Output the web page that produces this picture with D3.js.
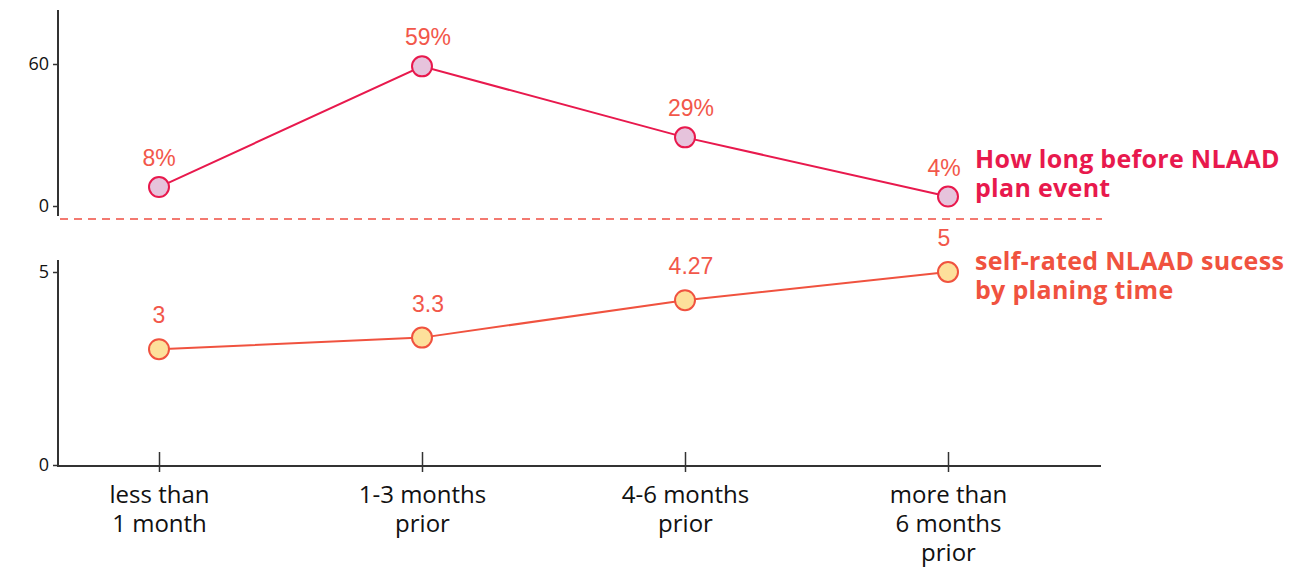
<!DOCTYPE html>
<html>
<head>
<meta charset="utf-8">
<script src="https://cdn.jsdelivr.net/npm/d3@7"></script>
<style>
  body { margin: 0; background: #fff; }
  svg { display: block; }
</style>
</head>
<body>
<div id="chart"></div>
<script>
var width = 1312;
var height = 567;

// data
var categories = [["less than", "1 month"], ["1-3 months", "prior"], ["4-6 months", "prior"], ["more than", "6 months", "prior"]];
var planShare = [8, 59, 29, 4];
var planLabels = ["8%", "59%", "29%", "4%"];
var success = [3, 3.3, 4.27, 5];
var successLabels = ["3", "3.3", "4.27", "5"];
var topTicks = [0, 60];
var bottomTicks = [0, 5];

var crimson = "#e8194d";
var coral = "#f0523f";
var labelColor = "#f2574a";

var svg = d3.select("#chart").append("svg")
    .attr("width", width)
    .attr("height", height);

var x = d3.scalePoint()
    .domain(d3.range(categories.length))
    .range([159, 948]);

var yTop = d3.scaleLinear().domain([0, 60]).range([206, 64]);
var yBottom = d3.scaleLinear().domain([0, 5]).range([465, 272]);

// axes
function leftAxis(scale, ticks, y0, y1) {
    var g = svg.append("g").attr("transform", "translate(58,0)");
    g.call(d3.axisLeft(scale).tickValues(ticks).tickFormat(d3.format("d")).tickSize(5).tickSizeOuter(0));
    g.select(".domain").remove();
    g.append("line").attr("y1", y0).attr("y2", y1)
        .attr("stroke", "#333").attr("stroke-width", 2);
    g.selectAll(".tick line").attr("stroke", "#333").attr("stroke-width", 1.5);
    g.selectAll(".tick text")
        .attr("fill", "#111")
        .attr("x", -9)
        .attr("font-family", "Open Sans, sans-serif")
        .attr("font-size", 18);
    return g;
}
leftAxis(yTop, topTicks, 10, 216);
leftAxis(yBottom, bottomTicks, 260, 467);

var gx = svg.append("g").attr("transform", "translate(0,466)");
gx.call(d3.axisBottom(x).tickSize(0).tickFormat(""));
gx.select(".domain").remove();
gx.append("line").attr("x1", 57).attr("x2", 1101)
    .attr("stroke", "#333").attr("stroke-width", 2);
gx.selectAll(".tick line").remove();
gx.selectAll(".tick").append("line")
    .attr("y1", -14).attr("y2", 6)
    .attr("stroke", "#333").attr("stroke-width", 1.5);
gx.selectAll(".tick").append("text")
    .attr("fill", "#111")
    .attr("text-anchor", "middle")
    .style("font-family", "Open Sans, sans-serif")
    .style("font-size", "24px")
    .selectAll("tspan")
    .data(function(d) { return categories[d]; })
    .enter().append("tspan")
    .attr("x", 0)
    .attr("y", function(d, i) { return 37 + i * 29; })
    .text(function(d) { return d; });

// separator
svg.append("line")
    .attr("x1", 60).attr("x2", 1102)
    .attr("y1", 219).attr("y2", 219)
    .attr("stroke", "#f04e42")
    .attr("stroke-width", 1.6)
    .attr("stroke-dasharray", "8,6");

function series(values, labels, scale, lineColor, fill, labelDy) {
    var line = d3.line()
        .x(function(d, i) { return x(i); })
        .y(function(d) { return scale(d); });
    svg.append("path")
        .datum(values)
        .attr("d", line)
        .attr("fill", "none")
        .attr("stroke", lineColor)
        .attr("stroke-width", 2);
    svg.selectAll(null)
        .data(values)
        .enter().append("circle")
        .attr("cx", function(d, i) { return x(i); })
        .attr("cy", function(d) { return scale(d); })
        .attr("r", 10)
        .attr("fill", fill)
        .attr("stroke", lineColor)
        .attr("stroke-width", 2);
    svg.selectAll(null)
        .data(values)
        .enter().append("text")
        .attr("x", function(d, i) { return x(i) + (i === 0 ? 0 : i === 3 ? -4 : 6); })
        .attr("y", function(d) { return scale(d) - labelDy; })
        .attr("text-anchor", "middle")
        .attr("fill", labelColor)
        .style("font-family", "Liberation Sans, Arial, sans-serif")
        .style("font-size", "23px")
        .text(function(d, i) { return labels[i]; });
}
series(planShare, planLabels, yTop, crimson, "#e6c3dc", 21);
series(success, successLabels, yBottom, coral, "#fde09b", 26);

// series titles
function title(lines, y, color) {
    svg.append("text")
        .attr("x", 975)
        .attr("y", y)
        .attr("fill", color)
        .style("font-family", "Open Sans, sans-serif")
        .style("font-weight", "bold")
        .style("font-size", "25px")
        .style("letter-spacing", "0.3px")
        .selectAll("tspan")
        .data(lines)
        .enter().append("tspan")
        .attr("x", 975)
        .attr("dy", function(d, i) { return i === 0 ? 0 : 29; })
        .text(function(d) { return d; });
}
title(["How long before NLAAD", "plan event"], 168, crimson);
title(["self-rated NLAAD sucess", "by planing time"], 270, coral);
</script>
</body>
</html>
